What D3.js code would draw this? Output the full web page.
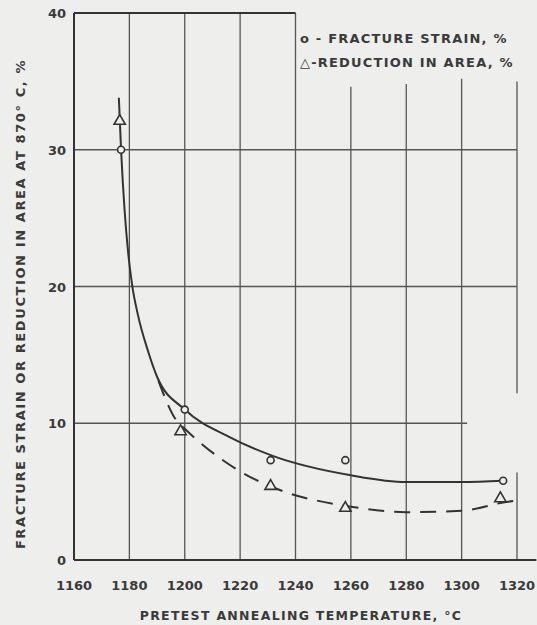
<!DOCTYPE html>
<html>
<head>
  <meta charset="UTF-8">
  <title>Fracture strain vs annealing temperature</title>
  <script src="https://d3js.org/d3.v7.min.js"></script>
  <style>
    body {
      margin: 0;
      padding: 0;
      background-color: #eeeeec;
    }

    svg {
      display: block;
    }

    text {
      font-family: "DejaVu Sans", sans-serif;
      font-weight: bold;
      fill: #3a3a3a;
    }

    .grid {
      stroke: #555;
      stroke-width: 1.3;
    }

    .frame {
      stroke: #333;
      stroke-width: 2;
    }
  </style>
</head>
<body>
  <svg id="chart" width="537" height="625"></svg>

  <script>
    // tick labels
    var xTicks = [1160, 1180, 1200, 1220, 1240, 1260, 1280, 1300, 1320];
    var yTicks = [0, 10, 20, 30, 40];

    // measured points
    var strainTemp = [1177, 1200, 1231, 1258, 1315];
    var strainVal = [30, 11, 7.3, 7.3, 5.8];
    var areaTemp = [1176.5, 1198.5, 1231, 1258, 1314];
    var areaVal = [32.1, 9.4, 5.4, 3.8, 4.5];

    // faired curves
    var solidTemp = [1176.2, 1177, 1178.3, 1179.5, 1181, 1183, 1186.7, 1190, 1200, 1216, 1232, 1260, 1280, 1300, 1315];
    var solidVal = [33.8, 30, 25.5, 22.6, 20.1, 18, 15.3, 13.4, 11, 9, 7.6, 6.2, 5.7, 5.7, 5.8];
    var dashTemp = [1190.5, 1197, 1200, 1219, 1232, 1260, 1280, 1300, 1315, 1322];
    var dashVal = [13.1, 10.2, 9.6, 6.6, 5.3, 3.9, 3.5, 3.6, 4.2, 4.4];

    // grid line extents, in data units
    var vGrid = [
      { t: 1180, segs: [[0, 40]] },
      { t: 1200, segs: [[0, 40]] },
      { t: 1220, segs: [[0, 40]] },
      { t: 1240, segs: [[0, 40]] },
      { t: 1260, segs: [[0, 34.6]] },
      { t: 1280, segs: [[0, 34.8]] },
      { t: 1300, segs: [[0, 35.2]] },
      { t: 1320, segs: [[0, 6.4], [12.2, 35]] }
    ];
    var hGrid = [
      { v: 10, to: 1302 },
      { v: 20, to: 1320 },
      { v: 30, to: 1320 }
    ];

    var legendLabels = ["o - FRACTURE STRAIN, %", "\u25B3-REDUCTION IN AREA, %"];

    var svg = d3.select("#chart");

    var x = d3.scaleLinear().domain([1160, 1320]).range([74, 517]);
    var y = d3.scaleLinear().domain([0, 40]).range([560, 13]);

    // vertical grid
    vGrid.forEach(function (g) {
      g.segs.forEach(function (s) {
        svg.append("line")
          .attr("class", "grid")
          .attr("x1", x(g.t)).attr("x2", x(g.t))
          .attr("y1", y(s[0])).attr("y2", y(s[1]));
      });
    });

    // horizontal grid
    svg.selectAll(".hgrid")
      .data(hGrid)
      .enter()
      .append("line")
      .attr("class", "grid")
      .attr("x1", x(1160))
      .attr("x2", d => x(d.to))
      .attr("y1", d => y(d.v))
      .attr("y2", d => y(d.v));

    // frame: left axis, bottom axis, top border
    svg.append("line").attr("class", "frame")
      .attr("x1", x(1160)).attr("x2", x(1160))
      .attr("y1", y(0)).attr("y2", y(40));
    svg.append("line").attr("class", "frame")
      .attr("x1", x(1160)).attr("x2", x(1327))
      .attr("y1", y(0)).attr("y2", y(0));
    svg.append("line").attr("class", "frame")
      .attr("x1", x(1160)).attr("x2", x(1240))
      .attr("y1", y(40)).attr("y2", y(40));

    // tick labels
    svg.selectAll(".xlab")
      .data(xTicks)
      .enter()
      .append("text")
      .attr("x", d => x(d))
      .attr("y", 590)
      .attr("text-anchor", "middle")
      .attr("font-size", 13)
      .text(d => d);

    svg.selectAll(".ylab")
      .data(yTicks)
      .enter()
      .append("text")
      .attr("x", 66)
      .attr("y", d => y(d) + 5)
      .attr("text-anchor", "end")
      .attr("font-size", 13)
      .text(d => d);

    // axis titles
    svg.append("text")
      .attr("x", 301)
      .attr("y", 620)
      .attr("text-anchor", "middle")
      .attr("font-size", 12.5)
      .attr("letter-spacing", 1.3)
      .text("PRETEST ANNEALING TEMPERATURE, \u00B0C");

    svg.append("text")
      .attr("transform", "translate(25,304) rotate(-90)")
      .attr("text-anchor", "middle")
      .attr("font-size", 13)
      .attr("letter-spacing", 1.6)
      .text("FRACTURE STRAIN OR REDUCTION IN AREA AT 870\u00B0 C, %");

    // legend
    svg.selectAll(".leg")
      .data(legendLabels)
      .enter()
      .append("text")
      .attr("x", 300)
      .attr("y", (d, i) => 43 + i * 24)
      .attr("font-size", 13)
      .attr("letter-spacing", 1.2)
      .text(d => d);

    // curves
    var line = d3.line()
      .x(d => x(d[0]))
      .y(d => y(d[1]))
      .curve(d3.curveMonotoneX);

    svg.append("path")
      .datum(d3.zip(solidTemp, solidVal))
      .attr("d", line)
      .attr("fill", "none")
      .attr("stroke", "#333")
      .attr("stroke-width", 2);

    svg.append("path")
      .datum(d3.zip(dashTemp, dashVal))
      .attr("d", line)
      .attr("fill", "none")
      .attr("stroke", "#333")
      .attr("stroke-width", 2)
      .attr("stroke-dasharray", "16,10");

    // markers
    svg.selectAll(".circ")
      .data(d3.zip(strainTemp, strainVal))
      .enter()
      .append("circle")
      .attr("cx", d => x(d[0]))
      .attr("cy", d => y(d[1]))
      .attr("r", 3.5)
      .attr("fill", "#eeeeec")
      .attr("stroke", "#333")
      .attr("stroke-width", 1.6);

    var tri = d3.symbol().type(d3.symbolTriangle).size(55);
    svg.selectAll(".tri")
      .data(d3.zip(areaTemp, areaVal))
      .enter()
      .append("path")
      .attr("d", tri)
      .attr("transform", d => "translate(" + x(d[0]) + "," + y(d[1]) + ")")
      .attr("fill", "#eeeeec")
      .attr("stroke", "#333")
      .attr("stroke-width", 1.6);
  </script>
</body>
</html>
